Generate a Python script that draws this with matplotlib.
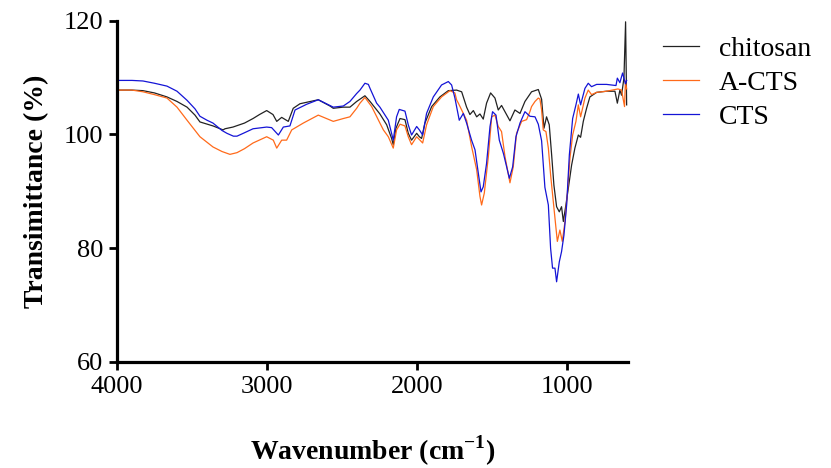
import matplotlib
matplotlib.use("Agg")
import matplotlib.pyplot as plt

# FTIR spectra (wavenumber, transmittance %)
wn_chitosan = [4000, 3900, 3827, 3750, 3667, 3600, 3533, 3480, 3447, 3360, 3293, 3280, 3227,
               3150, 3093, 3050, 3002, 2960, 2935, 2902, 2858, 2825, 2780, 2658, 2580, 2558,
               2493, 2447, 2402, 2369, 2347, 2313, 2247, 2202, 2169, 2158, 2140, 2113, 2080,
               2058, 2036, 2002, 1984, 1969, 1947, 1902, 1847, 1791, 1736, 1702, 1669, 1647,
               1624, 1602, 1580, 1558, 1536, 1509, 1480, 1458, 1436, 1407, 1380, 1347, 1313,
               1280, 1236, 1191, 1169, 1153, 1136, 1118, 1102, 1087, 1069, 1051, 1036, 1024,
               1007, 991, 969, 947, 924, 909, 891, 869, 847, 802, 736, 680, 664, 647, 636,
               620, 609, 602]
t_chitosan = [107.8, 107.8, 107.7, 107.3, 106.6, 105.8, 104.8, 103.4, 102.2, 101.5, 100.8, 101.0, 101.3,
              102.0, 102.8, 103.5, 104.2, 103.5, 102.3, 103.0, 102.3, 104.6, 105.4, 106.1, 105.0, 104.6,
              104.8, 104.8, 105.8, 106.4, 106.8, 105.8, 103.6, 101.7, 99.3, 98.2, 101.1, 102.8, 102.6,
              100.2, 99.0, 100.2, 99.6, 99.3, 102.0, 104.9, 106.6, 107.7, 107.8, 107.5, 104.8, 103.5,
              104.2, 103.1, 103.6, 102.7, 105.5, 107.3, 106.4, 104.3, 105.1, 103.7, 102.4, 104.3, 103.7,
              105.8, 107.5, 107.9, 106.2, 101.1, 103.1, 101.7, 96.4, 91.1, 87.3, 86.4, 87.3, 84.7,
              87.6, 90.5, 94.6, 97.6, 99.9, 99.5, 102.3, 104.6, 106.6, 107.4, 107.6, 107.6, 105.5, 107.8, 106.9,
              109.9, 119.8, 105.2]

wn_acts = [4000, 3900, 3827, 3750, 3667, 3600, 3533, 3447, 3360, 3300, 3247, 3200, 3150, 3093,
           3002, 2958, 2935, 2902, 2869, 2835, 2758, 2658, 2558, 2491, 2447, 2402, 2380, 2347,
           2302, 2247, 2224, 2191, 2158, 2136, 2113, 2080, 2058, 2036, 2002, 1980, 1962, 1936,
           1891, 1836, 1780, 1747, 1736, 1724, 1702, 1669, 1636, 1602, 1580, 1569, 1551, 1524,
           1502, 1480, 1458, 1436, 1413, 1380, 1358, 1336, 1302, 1269, 1247, 1236, 1213, 1191,
           1180, 1169, 1158, 1140, 1124, 1109, 1091, 1073, 1064, 1047, 1031, 1013, 998, 980,
           962, 940, 924, 909, 880, 858, 836, 802, 736, 660, 636, 616, 610, 602]
t_acts = [107.8, 107.8, 107.5, 107.0, 106.4, 104.8, 102.5, 99.6, 97.8, 97.0, 96.5, 96.8, 97.5, 98.5,
          99.6, 99.0, 97.6, 99.0, 99.0, 100.8, 102.0, 103.4, 102.3, 102.8, 103.1, 104.6, 105.5, 106.5,
          104.9, 102.0, 100.8, 99.6, 97.6, 100.8, 101.8, 101.5, 99.6, 98.2, 99.6, 99.0, 98.5, 101.7,
          104.9, 106.6, 107.7, 107.3, 106.1, 105.5, 104.3, 102.5, 97.9, 93.8, 89.1, 87.6, 89.7, 96.1,
          103.1, 103.4, 101.4, 100.5, 96.1, 91.5, 94.3, 100.2, 102.3, 102.6, 104.0, 104.9, 105.8, 106.4,
          106.2, 104.3, 100.8, 100.5, 97.6, 92.9, 88.2, 83.5, 81.2, 83.2, 81.2, 84.7, 89.4, 95.8,
          99.9, 102.3, 105.2, 103.1, 106.4, 107.8, 107.0, 107.4, 107.6, 108.0, 107.8, 104.9, 109.4, 108.0]

wn_cts = [4000, 3900, 3827, 3750, 3667, 3600, 3533, 3480, 3447, 3400, 3360, 3300, 3267, 3224,
          3200, 3150, 3093, 3002, 2969, 2924, 2891, 2847, 2813, 2736, 2658, 2558, 2491, 2447,
          2402, 2380, 2347, 2324, 2313, 2269, 2247, 2191, 2158, 2136, 2118, 2080, 2058, 2036,
          2002, 1984, 1962, 1936, 1891, 1836, 1791, 1769, 1747, 1718, 1691, 1669, 1636, 1613,
          1591, 1573, 1558, 1536, 1513, 1496, 1473, 1451, 1424, 1402, 1384, 1362, 1340, 1313,
          1280, 1247, 1213, 1191, 1169, 1147, 1124, 1109, 1096, 1080, 1069, 1051, 1036, 1020,
          1002, 984, 962, 940, 924, 909, 880, 858, 836, 802, 736, 673, 664, 647, 629, 610, 602]
t_cts = [109.5, 109.5, 109.4, 109.0, 108.5, 107.6, 106.0, 104.5, 103.2, 102.5, 102.0, 100.7, 100.2, 99.7,
         99.7, 100.3, 101.0, 101.3, 101.2, 99.9, 101.3, 101.5, 104.3, 105.3, 106.1, 104.8, 105.0, 105.8,
         107.2, 107.8, 109.0, 108.8, 108.1, 105.5, 104.8, 102.5, 99.0, 103.1, 104.4, 104.1, 101.7, 99.9,
         101.4, 100.8, 99.9, 103.7, 106.6, 108.7, 109.3, 108.7, 106.4, 102.5, 103.7, 102.0, 99.0, 97.3,
         93.2, 89.9, 90.8, 94.9, 101.4, 104.0, 103.4, 99.0, 96.7, 94.3, 92.3, 94.3, 99.6, 102.0,
         104.0, 103.2, 103.1, 101.8, 98.9, 90.7, 87.6, 80.0, 76.5, 76.5, 74.1, 77.6, 79.4, 82.3,
         87.6, 96.4, 102.8, 105.2, 107.1, 105.2, 108.1, 109.0, 108.4, 108.8, 108.8, 108.6, 109.9, 109.1, 110.8, 108.9, 109.5]

labels = ["chitosan", "A-CTS", "CTS"]
colors = ["#222222", "#ff6a1a", "#1414d6"]

serif = "Liberation Serif"
plt.rcParams["font.family"] = serif
plt.rcParams["mathtext.fontset"] = "custom"
plt.rcParams["mathtext.rm"] = serif + ":bold"

fig = plt.figure(figsize=(8.31, 4.68), dpi=100)
ax = fig.add_axes([0.1408, 0.2265, 0.6149, 0.7293])

series = [(wn_chitosan, t_chitosan), (wn_acts, t_acts), (wn_cts, t_cts)]
for (x, y), lab, c in zip(series, labels, colors):
    ax.plot(x, y, color=c, lw=0.9, label=lab)

ax.set_xlim(4000, 593)
ax.set_ylim(60, 120)
ax.set_xticks([4000, 3000, 2000, 1000])
ax.set_yticks([60, 80, 100, 120])

for s in ["top", "right"]:
    ax.spines[s].set_visible(False)
for s in ["left", "bottom"]:
    ax.spines[s].set_linewidth(2.3)
ax.tick_params(width=2.0, length=6, labelsize=19, pad=4)

ax.set_ylabel("Transimittance (%)", fontsize=20, fontweight="bold", labelpad=10)
ax.set_xlabel(r"Wavenumber (cm$^{\mathrm{-1}}$)", fontsize=20, fontweight="bold", labelpad=26)

fig.legend(loc="upper left", bbox_to_anchor=(0.768, 0.975), frameon=False, fontsize=20,
           handlelength=1.3, handletextpad=0.7, labelspacing=0.3)

fig.savefig("out.png", dpi=100)
